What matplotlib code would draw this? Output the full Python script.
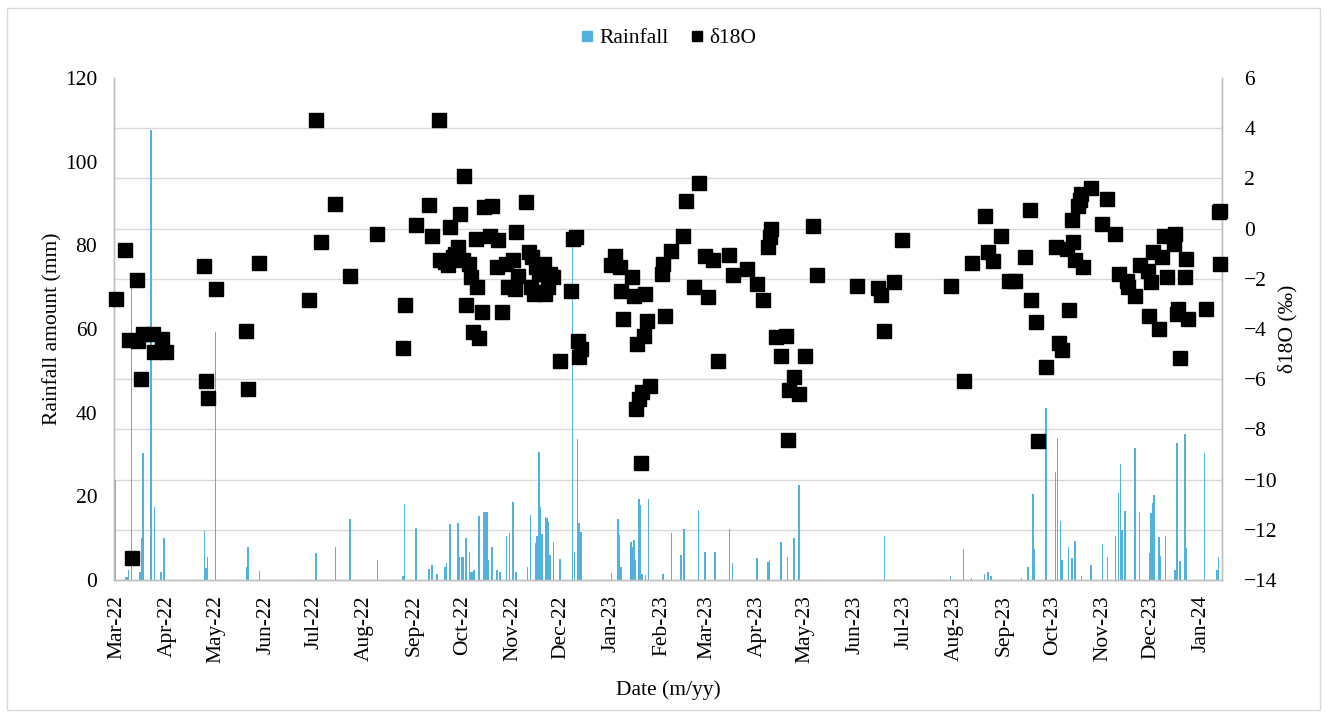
import numpy as np
import pandas as pd
import matplotlib
matplotlib.use("Agg")
import matplotlib.pyplot as plt
import matplotlib.dates as mdates
from matplotlib.lines import Line2D
from matplotlib.patches import Rectangle

# ----------------------------
# Daily rainfall (mm)
# ----------------------------
rain_dates = [
    "2022-02-28", "2022-03-06", "2022-03-07", "2022-03-08", "2022-03-10", "2022-03-15",
    "2022-03-16", "2022-03-17", "2022-03-22", "2022-03-24", "2022-03-28", "2022-03-30",
    "2022-04-24", "2022-04-25", "2022-04-26", "2022-05-01", "2022-05-20", "2022-05-21",
    "2022-05-28", "2022-07-02", "2022-07-14", "2022-07-23", "2022-08-09", "2022-08-25",
    "2022-08-26", "2022-09-02", "2022-09-10", "2022-09-12", "2022-09-15", "2022-09-20",
    "2022-09-21", "2022-09-23", "2022-09-28", "2022-09-29", "2022-09-30", "2022-10-01",
    "2022-10-03", "2022-10-05", "2022-10-06", "2022-10-07", "2022-10-08", "2022-10-11",
    "2022-10-14", "2022-10-15", "2022-10-16", "2022-10-17", "2022-10-19", "2022-10-22",
    "2022-10-24", "2022-10-28", "2022-10-30", "2022-11-01", "2022-11-03", "2022-11-10",
    "2022-11-12", "2022-11-15", "2022-11-16", "2022-11-17", "2022-11-18", "2022-11-19",
    "2022-11-21", "2022-11-22", "2022-11-23", "2022-11-24", "2022-11-26", "2022-11-30",
    "2022-12-08", "2022-12-09", "2022-12-11", "2022-12-12", "2022-12-13", "2023-01-01",
    "2023-01-05", "2023-01-06", "2023-01-07", "2023-01-13", "2023-01-14", "2023-01-15",
    "2023-01-16", "2023-01-18", "2023-01-19", "2023-01-20", "2023-01-22", "2023-01-24",
    "2023-02-02", "2023-02-07", "2023-02-13", "2023-02-15", "2023-02-24", "2023-02-28",
    "2023-03-06", "2023-03-15", "2023-03-17", "2023-04-01", "2023-04-08", "2023-04-09",
    "2023-04-16", "2023-04-20", "2023-04-24", "2023-04-27", "2023-06-19", "2023-07-30",
    "2023-08-07", "2023-08-12", "2023-08-20", "2023-08-22", "2023-08-24", "2023-09-12",
    "2023-09-16", "2023-09-19", "2023-09-20", "2023-09-27", "2023-10-03", "2023-10-04",
    "2023-10-06", "2023-10-07", "2023-10-11", "2023-10-13", "2023-10-15", "2023-10-19",
    "2023-10-25", "2023-11-01", "2023-11-04", "2023-11-09", "2023-11-11", "2023-11-12",
    "2023-11-13", "2023-11-15", "2023-11-21", "2023-11-24", "2023-11-30", "2023-12-01",
    "2023-12-02", "2023-12-03", "2023-12-06", "2023-12-07", "2023-12-10", "2023-12-16",
    "2023-12-17", "2023-12-19", "2023-12-22", "2023-12-23", "2024-01-03", "2024-01-11",
    "2024-01-12",
]
rain_mm = [
    24.0, 0.7, 0.8, 2.4, 72.0, 2.0,
    10.0, 30.3, 107.6, 17.5, 2.0, 10.0,
    11.7, 2.8, 5.6, 59.3, 3.0, 8.0,
    2.2, 6.5, 8.0, 14.6, 4.8, 1.0,
    18.2, 12.4, 2.6, 3.6, 1.4, 3.2,
    4.0, 13.4, 13.6, 5.5, 5.5, 5.5,
    10.0, 6.7, 2.0, 2.0, 2.4, 15.3,
    16.3, 16.3, 16.3, 4.8, 8.0, 2.4,
    2.0, 10.4, 11.2, 18.7, 2.0, 3.0,
    15.5, 8.8, 10.4, 30.7, 17.4, 11.0,
    15.1, 14.8, 13.9, 6.0, 9.0, 5.0,
    81.0, 6.8, 33.6, 13.6, 11.4, 1.7,
    14.7, 10.7, 3.0, 9.2, 8.0, 9.6,
    4.8, 19.4, 18.0, 1.4, 1.2, 19.3,
    1.5, 11.3, 6.0, 12.2, 16.7, 6.8,
    6.8, 12.2, 4.0, 5.3, 4.4, 4.8,
    9.2, 5.6, 10.1, 22.7, 10.5, 1.0,
    7.3, 0.5, 1.4, 2.0, 1.0, 0.5,
    3.0, 20.5, 7.3, 41.0, 25.7, 33.9,
    14.0, 4.8, 7.8, 5.3, 9.3, 1.0,
    3.6, 8.6, 5.6, 10.4, 20.7, 27.7,
    12.0, 16.6, 31.5, 16.3, 6.5, 15.9,
    18.5, 20.3, 10.2, 5.7, 10.4, 2.5,
    32.8, 4.6, 34.8, 7.6, 30.3, 2.5,
    5.6,
]

# ----------------------------
# Rainwater d18O (per mil)
# ----------------------------
iso_dates = [
    "2022-02-28", "2022-03-06", "2022-03-08", "2022-03-10", "2022-03-13", "2022-03-14",
    "2022-03-16", "2022-03-17", "2022-03-23", "2022-03-24", "2022-03-29", "2022-03-31",
    "2022-04-24", "2022-04-25", "2022-04-26", "2022-05-01", "2022-05-20", "2022-05-21",
    "2022-05-28", "2022-06-28", "2022-07-02", "2022-07-05", "2022-07-14", "2022-07-23",
    "2022-08-09", "2022-08-25", "2022-08-26", "2022-09-02", "2022-09-10", "2022-09-12",
    "2022-09-16", "2022-09-17", "2022-09-20", "2022-09-22", "2022-09-23", "2022-09-25",
    "2022-09-26", "2022-09-28", "2022-09-29", "2022-10-01", "2022-10-02", "2022-10-03",
    "2022-10-05", "2022-10-06", "2022-10-07", "2022-10-09", "2022-10-10", "2022-10-11",
    "2022-10-13", "2022-10-14", "2022-10-18", "2022-10-19", "2022-10-22", "2022-10-23",
    "2022-10-25", "2022-10-28", "2022-10-29", "2022-11-01", "2022-11-02", "2022-11-03",
    "2022-11-04", "2022-11-09", "2022-11-11", "2022-11-12", "2022-11-13", "2022-11-14",
    "2022-11-15", "2022-11-17", "2022-11-18", "2022-11-20", "2022-11-21", "2022-11-23",
    "2022-11-24", "2022-11-26", "2022-11-30", "2022-12-07", "2022-12-08", "2022-12-10",
    "2022-12-11", "2022-12-12", "2022-12-13", "2023-01-01", "2023-01-03", "2023-01-06",
    "2023-01-07", "2023-01-08", "2023-01-14", "2023-01-15", "2023-01-16", "2023-01-17",
    "2023-01-18", "2023-01-19", "2023-01-20", "2023-01-21", "2023-01-22", "2023-01-23",
    "2023-01-25", "2023-02-01", "2023-02-02", "2023-02-03", "2023-02-07", "2023-02-14",
    "2023-02-16", "2023-02-21", "2023-02-24", "2023-02-28", "2023-03-02", "2023-03-05",
    "2023-03-08", "2023-03-15", "2023-03-17", "2023-03-26", "2023-04-01", "2023-04-05",
    "2023-04-08", "2023-04-09", "2023-04-10", "2023-04-13", "2023-04-16", "2023-04-19",
    "2023-04-20", "2023-04-21", "2023-04-24", "2023-04-27", "2023-05-01", "2023-05-06",
    "2023-05-08", "2023-06-02", "2023-06-15", "2023-06-17", "2023-06-19", "2023-06-25",
    "2023-06-30", "2023-07-30", "2023-08-07", "2023-08-12", "2023-08-20", "2023-08-22",
    "2023-08-25", "2023-08-30", "2023-09-04", "2023-09-08", "2023-09-14", "2023-09-17",
    "2023-09-18", "2023-09-21", "2023-09-22", "2023-09-27", "2023-10-03", "2023-10-05",
    "2023-10-07", "2023-10-10", "2023-10-11", "2023-10-13", "2023-10-14", "2023-10-15",
    "2023-10-17", "2023-10-18", "2023-10-19", "2023-10-20", "2023-10-25", "2023-11-01",
    "2023-11-04", "2023-11-09", "2023-11-11", "2023-11-16", "2023-11-17", "2023-11-21",
    "2023-11-24", "2023-11-29", "2023-11-30", "2023-12-01", "2023-12-02", "2023-12-06",
    "2023-12-08", "2023-12-09", "2023-12-11", "2023-12-15", "2023-12-16", "2023-12-17",
    "2023-12-18", "2023-12-19", "2023-12-22", "2023-12-23", "2023-12-24", "2024-01-04",
    "2024-01-12", "2024-01-13", "2024-01-13",
]
iso_d18o = [
    -2.80, -0.84, -4.43, -13.13, -2.04, -4.46,
    -5.99, -4.20, -4.20, -4.93, -4.40, -4.93,
    -1.49, -6.08, -6.75, -2.42, -4.09, -6.41,
    -1.38, -2.84, 4.34, -0.52, 0.98, -1.90,
    -0.21, -4.77, -3.05, 0.16, 0.96, -0.28,
    4.34, -1.27, -1.34, -1.47, 0.08, -1.14,
    -1.01, -0.74, 0.58, -1.27, 2.11, -3.03,
    -1.41, -1.94, -4.13, -0.41, -2.34, -4.36,
    -3.33, 0.85, -0.28, 0.90, -1.54, -0.45,
    -3.33, -1.41, -2.34, -1.27, -2.40, -0.15,
    -1.87, 1.05, -0.94, -2.34, -1.14, -2.60,
    -1.54, -1.80, -2.54, -1.41, -2.60, -2.34,
    -1.80, -1.94, -5.29, -2.47, -0.41, -0.35,
    -4.46, -5.13, -4.80, -1.47, -1.08, -1.54,
    -2.50, -3.60, -1.94, -2.67, -7.18, -4.60,
    -6.78, -9.35, -6.52, -4.26, -2.60, -3.67,
    -6.29, -1.80, -1.41, -3.50, -0.90, -0.31,
    1.09, -2.34, 1.80, -1.08, -2.71, -1.25,
    -5.26, -1.04, -1.83, -1.61, -2.20, -2.84,
    -0.74, -0.35, -0.01, -4.33, -5.06, -4.26,
    -8.41, -6.45, -5.92, -6.59, -5.06, 0.11,
    -1.83, -2.30, -2.36, -2.63, -4.06, -2.11,
    -0.45, -2.30, -6.08, -1.37, 0.49, -0.94,
    -1.30, -0.28, -2.07, -2.07, -1.12, 0.75,
    -2.84, -3.73, -8.45, -5.50, -0.74, -4.57,
    -4.83, -0.81, -3.24, 0.35, -0.54, -1.25,
    0.92, 1.12, 1.38, -1.54, 1.62, 0.19,
    1.18, -0.21, -1.80, -2.07, -2.34, -2.67,
    -1.47, -1.67, -3.47, -2.14, -0.94, -4.00,
    -1.14, -0.28, -1.94, -0.61, -0.21, -3.40,
    -3.20, -5.17, -1.94, -1.21, -3.60, -3.20,
    0.65, 0.70, -1.41,
]

rain_t = pd.to_datetime(rain_dates)
iso_t = pd.to_datetime(iso_dates)

plt.rcParams["font.family"] = ["Liberation Serif", "DejaVu Serif"]
plt.rcParams["font.size"] = 15.5

W, H = 1330, 713
fig = plt.figure(figsize=(W / 100, H / 100), dpi=100)

# outer chart frame
fig.patches.append(Rectangle((7 / W, 3 / H), 1313 / W, 702 / H, transform=fig.transFigure,
                             fill=False, edgecolor="#d9d9d9", linewidth=1.0))

x0, x1, y0, y1 = 114, 1222, 78, 580
ax = fig.add_axes([x0 / W, 1 - y1 / H, (x1 - x0) / W, (y1 - y0) / H])
ax2 = ax.twinx()

grid_col = "#d9d9d9"

# rainfall bars on the left axis
ax.bar(rain_t, rain_mm, width=0.9, color="#52b1de", linewidth=0, zorder=2)
ax.set_ylim(0, 120)
ax.set_yticks(np.arange(0, 121, 20))
ax.set_yticks(np.arange(0, 121, 12), minor=True)
ax.grid(which="minor", axis="y", color=grid_col, linewidth=1.0, zorder=0)
ax.set_axisbelow(True)
ax.set_ylabel("Rainfall amount (mm)", labelpad=2)

# d18O squares on the right axis
ax2.plot(iso_t, iso_d18o, linestyle="none", marker="s", markersize=10.5,
         color="black", markeredgecolor="black", zorder=3, clip_on=False)
ax2.set_ylim(-14, 6)
ax2.set_yticks(np.arange(-14, 7, 2))
ax2.set_ylabel("δ18O (‰)", labelpad=0)

ax.set_xlim(pd.Timestamp("2022-02-27"), pd.Timestamp("2024-01-14"))
ax.xaxis.set_major_locator(mdates.MonthLocator())
ax.xaxis.set_major_formatter(mdates.DateFormatter("%b-%y"))
ax.tick_params(axis="x", rotation=90, length=0, pad=11)
ax.tick_params(axis="y", which="both", length=0, pad=12)
ax2.tick_params(axis="y", length=0, pad=16)
ax.set_xlabel("Date (m/yy)", labelpad=12)

for a in (ax, ax2):
    a.spines["top"].set_visible(False)
    for side in ("left", "right", "bottom"):
        a.spines[side].set_color("#bfbfbf")
        a.spines[side].set_linewidth(1.0)

handles = [
    Line2D([], [], linestyle="none", marker="s", markersize=6.5, color="#52b1de"),
    Line2D([], [], linestyle="none", marker="s", markersize=6.5, color="black"),
]
fig.legend(handles, ["Rainfall", "δ18O"], loc="center", bbox_to_anchor=(668 / W, 1 - 38 / H),
           ncol=2, frameon=False, handlelength=0.7, handletextpad=0.2, columnspacing=1.0)

fig.savefig("out.png", dpi=100)
